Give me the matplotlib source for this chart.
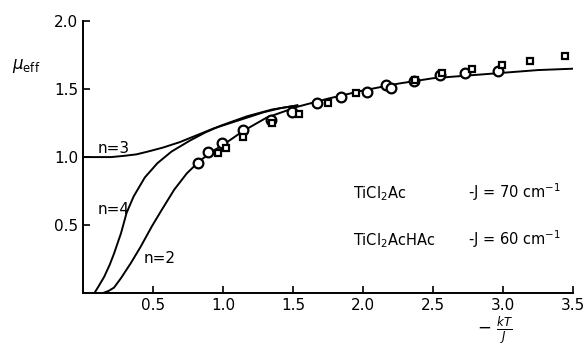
import matplotlib.pyplot as plt

# theoretical curves
n2_x = [0.14, 0.18, 0.22, 0.27, 0.34, 0.41, 0.49, 0.56, 0.65, 0.74, 0.83, 0.92, 1.00, 1.14, 1.31, 1.53, 1.75, 2.00, 2.25, 2.50, 2.75, 3.00, 3.25, 3.50]
n2_y = [0.00, 0.015, 0.04, 0.11, 0.22, 0.34, 0.49, 0.61, 0.76, 0.88, 0.97, 1.04, 1.09, 1.19, 1.29, 1.37, 1.43, 1.49, 1.54, 1.58, 1.60, 1.62, 1.64, 1.65]

n3_x = [0.00, 0.10, 0.20, 0.30, 0.38, 0.46, 0.57, 0.69, 0.81, 0.93, 1.05, 1.17, 1.29, 1.41, 1.53]
n3_y = [1.00, 1.00, 1.00, 1.01, 1.02, 1.04, 1.07, 1.11, 1.16, 1.21, 1.25, 1.29, 1.33, 1.36, 1.38]

n4_x = [0.08, 0.11, 0.15, 0.19, 0.22, 0.27, 0.31, 0.36, 0.44, 0.53, 0.63, 0.76, 0.87, 0.98, 1.17, 1.35, 1.53]
n4_y = [0.00, 0.05, 0.12, 0.21, 0.29, 0.44, 0.59, 0.71, 0.85, 0.955, 1.04, 1.12, 1.18, 1.23, 1.30, 1.35, 1.38]

# TiCl2Ac (circles) and TiCl2AcHAc (squares)
circ_x = [0.82, 0.89, 0.99, 1.14, 1.34, 1.49, 1.67, 1.84, 2.03, 2.16, 2.20, 2.36, 2.55, 2.73, 2.96]
circ_y = [0.956, 1.04, 1.10, 1.20, 1.27, 1.33, 1.40, 1.44, 1.48, 1.53, 1.51, 1.56, 1.60, 1.62, 1.63]
sq_x = [0.96, 1.02, 1.14, 1.35, 1.54, 1.75, 1.95, 2.37, 2.56, 2.78, 2.99, 3.19, 3.44]
sq_y = [1.03, 1.07, 1.15, 1.25, 1.32, 1.40, 1.47, 1.57, 1.62, 1.65, 1.68, 1.71, 1.74]

x_ticks = [0.5, 1.0, 1.5, 2.0, 2.5, 3.0, 3.5]
y_ticks = [0.5, 1.0, 1.5, 2.0]

fig = plt.figure(figsize=(5.86, 3.46), dpi=100)
ax = fig.add_axes([0.142, 0.153, 0.836, 0.786])

for xs, ys in [(n2_x, n2_y), (n3_x, n3_y), (n4_x, n4_y)]:
    ax.plot(xs, ys, color='black', lw=1.4, solid_joinstyle='round')

ax.plot(circ_x, circ_y, 'o', ms=7, mfc='white', mec='black', mew=1.6, ls='none')
ax.plot(sq_x, sq_y, 's', ms=5, mfc='white', mec='black', mew=1.6, ls='none')

ax.set_xlim(0, 3.5)
ax.set_ylim(0, 2.0)
ax.set_xticks(x_ticks)
ax.set_yticks(y_ticks)
ax.set_xticklabels([f'{v:.1f}' for v in x_ticks])
ax.set_yticklabels([f'{v:.1f}' for v in y_ticks])
ax.tick_params(direction='in', length=5, width=1.2, labelsize=11)
for s in ['top', 'right']:
    ax.spines[s].set_visible(False)
for s in ['left', 'bottom']:
    ax.spines[s].set_linewidth(1.4)

# curve labels
ax.text(0.10, 1.03, 'n=3', fontsize=11)
ax.text(0.10, 0.58, 'n=4', fontsize=11)
ax.text(0.43, 0.22, 'n=2', fontsize=11)

ax.text(1.93, 0.70, r'TiCl$_2$Ac', fontsize=10.5)
ax.text(1.93, 0.35, r'TiCl$_2$AcHAc', fontsize=10.5)
ax.text(2.75, 0.70, r'-J = 70 cm$^{-1}$', fontsize=10.5)
ax.text(2.75, 0.35, r'-J = 60 cm$^{-1}$', fontsize=10.5)

fig.text(0.02, 0.80, r'$\mu_{\mathrm{eff}}$', fontsize=12)
fig.text(0.845, 0.0, r'$-\ \frac{kT}{J}$', fontsize=12, ha='center', va='bottom')

fig.savefig('out.png', dpi=100)
